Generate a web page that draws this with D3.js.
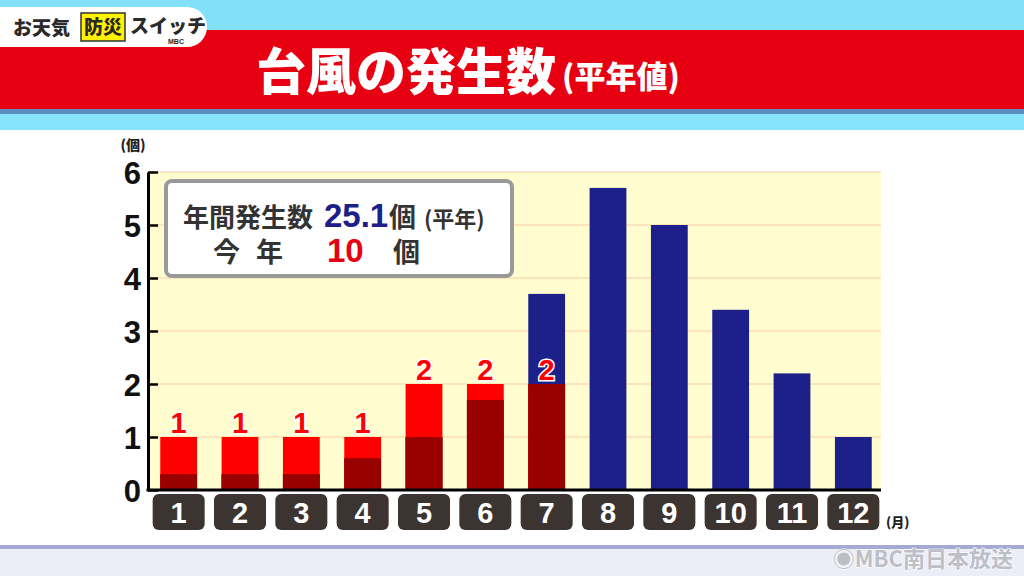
<!DOCTYPE html>
<html>
<head>
<meta charset="utf-8">
<script src="https://cdn.jsdelivr.net/npm/d3@7"></script>
<style>
    body { margin: 0; background: #fff; }
    svg { display: block; }
    text { font-family: "Noto Sans CJK JP", "Noto Sans", sans-serif; }
    .num { font-family: "Liberation Sans", Arial, sans-serif; font-weight: bold; }
</style>
</head>
<body>
<svg id="chart" width="1024" height="576"></svg>
<script>
// monthly typhoon counts: normal (平年値) and this year (今年)
const months = ["1", "2", "3", "4", "5", "6", "7", "8", "9", "10", "11", "12"];
const normalValues = [0.3, 0.3, 0.3, 0.6, 1.0, 1.7, 3.7, 5.7, 5.0, 3.4, 2.2, 1.0];
const thisYearValues = [1, 1, 1, 1, 2, 2, 2, 0, 0, 0, 0, 0];
const yTickValues = [0, 1, 2, 3, 4, 5, 6];

const colors = {
    normal: "#1d2088",
    thisYear: "#ff0000",
    overlap: "#990000",
    plotBg: "#fffcd0",
    grid: "#f8cfa6"
};

let svg = d3.select("#chart");

// ---- header / frame ----
svg.append("rect").attr("x", 0).attr("y", 0).attr("width", 1024).attr("height", 130).attr("fill", "#82e0f8");
svg.append("rect").attr("x", 0).attr("y", 30).attr("width", 1024).attr("height", 79).attr("fill", "#e60012");
svg.append("rect").attr("x", 0).attr("y", 109).attr("width", 1024).attr("height", 5).attr("fill", "#5a8fbe");
svg.append("rect").attr("x", 0).attr("y", 114).attr("width", 1024).attr("height", 16).attr("fill", "#87e4fc");
svg.append("rect").attr("x", 0).attr("y", 545).attr("width", 1024).attr("height", 4).attr("fill", "#a4aad2");
svg.append("rect").attr("x", 0).attr("y", 549).attr("width", 1024).attr("height", 27).attr("fill", "#eceef7");

// logo tab
svg.append("path")
    .attr("d", "M0,7 H187 A20,20 0 0 1 207,27 A20,20 0 0 1 187,47 H0 Z")
    .attr("fill", "#fff");
svg.append("text").attr("x", 13).attr("y", 35)
    .style("font-size", "19px").style("font-weight", 900).attr("fill", "#2a2a2a")
    .text("お天気");
svg.append("rect").attr("x", 81).attr("y", 13).attr("width", 44).attr("height", 28)
    .attr("fill", "#fff200").attr("stroke", "#333").attr("stroke-width", 1.5);
svg.append("text").attr("x", 84).attr("y", 34)
    .style("font-size", "19px").style("font-weight", 900).attr("fill", "#2a2a2a")
    .text("防災");
svg.append("text").attr("x", 130).attr("y", 33)
    .style("font-size", "19px").style("font-weight", 900).attr("fill", "#2a2a2a")
    .text("スイッチ");
svg.append("text").attr("class", "num").attr("x", 168).attr("y", 44)
    .style("font-size", "7px").attr("fill", "#2a2a2a")
    .text("MBC");

// title
svg.append("text").attr("x", 256).attr("y", 90)
    .attr("fill", "#fff").style("font-weight", 900)
    .style("font-size", "50px").text("台風の発生数");
svg.append("text").attr("x", 562).attr("y", 88)
    .attr("fill", "#fff").style("font-weight", 900)
    .style("font-size", "31px").text("(平年値)");

// footer logo
svg.append("text").attr("x", 1013).attr("y", 567).attr("text-anchor", "end")
    .style("font-size", "22px").style("font-weight", 700)
    .attr("fill", "#bcbec8").attr("stroke", "#fff").attr("stroke-width", 1.2)
    .style("paint-order", "stroke")
    .text("◉MBC南日本放送");

// ---- chart ----
let x = d3.scaleBand()
    .domain(months)
    .range([148, 884])
    .paddingInner(0.4)
    .paddingOuter(0.2);

let y = d3.scaleLinear()
    .domain([0, 6])
    .range([490, 172]);

svg.append("rect")
    .attr("x", 148).attr("y", y(6))
    .attr("width", 881 - 148).attr("height", y(0) - y(6))
    .attr("fill", colors.plotBg);

svg.append("g")
    .selectAll("line")
    .data(yTickValues.slice(1))
    .enter().append("line")
    .attr("x1", 148).attr("x2", 881)
    .attr("y1", d => y(d)).attr("y2", d => y(d))
    .attr("stroke", colors.grid).attr("stroke-width", 1);

let data = months.map((m, i) => ({month: m, normal: normalValues[i], thisYear: thisYearValues[i]}));

let bars = svg.append("g");
bars.selectAll(".normal")
    .data(data)
    .enter().append("rect")
    .attr("class", "normal")
    .attr("x", d => x(d.month))
    .attr("width", x.bandwidth())
    .attr("y", d => y(d.normal))
    .attr("height", d => y(0) - y(d.normal))
    .attr("fill", colors.normal);

bars.selectAll(".this-year")
    .data(data.filter(d => d.thisYear > 0))
    .enter().append("rect")
    .attr("class", "this-year")
    .attr("x", d => x(d.month))
    .attr("width", x.bandwidth())
    .attr("y", d => y(d.thisYear))
    .attr("height", d => y(0) - y(d.thisYear))
    .attr("fill", colors.thisYear);

bars.selectAll(".overlap")
    .data(data.filter(d => d.thisYear > 0))
    .enter().append("rect")
    .attr("class", "overlap")
    .attr("x", d => x(d.month))
    .attr("width", x.bandwidth())
    .attr("y", d => y(Math.min(d.normal, d.thisYear)))
    .attr("height", d => y(0) - y(Math.min(d.normal, d.thisYear)))
    .attr("fill", colors.overlap);

svg.append("g")
    .selectAll("text")
    .data(data.filter(d => d.thisYear > 0))
    .enter().append("text")
    .attr("class", "num")
    .attr("x", d => x(d.month) + x.bandwidth() / 2)
    .attr("y", d => y(d.thisYear) - 4)
    .attr("text-anchor", "middle")
    .style("font-size", "29px")
    .attr("fill", colors.thisYear)
    .attr("stroke", "#fff").attr("stroke-width", 3)
    .style("paint-order", "stroke")
    .text(d => d.thisYear);

// y axis
let yAxis = svg.append("g")
    .attr("transform", "translate(148,0)")
    .call(d3.axisLeft(y).tickValues(yTickValues).tickFormat(d3.format("d"))
        .tickSize(-10).tickSizeOuter(0).tickPadding(7));
yAxis.select(".domain").attr("stroke", "#000").attr("stroke-width", 3);
yAxis.selectAll(".tick line").attr("stroke", "#000").attr("stroke-width", 2.5);
yAxis.selectAll(".tick text")
    .attr("class", "num")
    .style("font-size", "31px")
    .attr("fill", "#111")
    .attr("dy", "0.36em");

svg.append("text").attr("x", 133).attr("y", 150).attr("text-anchor", "middle")
    .style("font-size", "14px").style("font-weight", 900).attr("fill", "#222")
    .text("(個)");

// x axis with label boxes
let xAxis = svg.append("g")
    .attr("transform", "translate(0,490)")
    .call(d3.axisBottom(x).tickSize(0).tickPadding(0));
xAxis.select(".domain").remove();
xAxis.selectAll(".tick").insert("rect", "text")
    .attr("x", -26).attr("y", 4)
    .attr("width", 52).attr("height", 36)
    .attr("rx", 6)
    .attr("fill", "#3b3431");
xAxis.selectAll(".tick text")
    .attr("class", "num")
    .attr("y", 33)
    .attr("dy", 0)
    .style("font-size", "29px")
    .attr("fill", "#fff");

svg.append("line")
    .attr("x1", 146.5).attr("x2", 881)
    .attr("y1", 490).attr("y2", 490)
    .attr("stroke", "#000").attr("stroke-width", 3);

svg.append("text").attr("x", 886).attr("y", 527)
    .style("font-size", "13px").style("font-weight", 900).attr("fill", "#222")
    .text("(月)");

// legend box
svg.append("rect")
    .attr("x", 166).attr("y", 181).attr("width", 346).attr("height", 95)
    .attr("rx", 6)
    .attr("fill", "#fff").attr("stroke", "#999").attr("stroke-width", 4);

let line1 = svg.append("text").attr("x", 183).attr("y", 227).attr("fill", "#333");
line1.append("tspan").style("font-size", "26px").style("font-weight", 700).text("年間発生数");
line1.append("tspan").attr("class", "num").attr("x", 324).style("font-size", "33px").attr("fill", "#1d2088").text("25.1");
line1.append("tspan").attr("x", 389).style("font-size", "27px").style("font-weight", 700).text("個");
line1.append("tspan").attr("x", 424).style("font-size", "22px").style("font-weight", 700).text("(平年)");

let line2 = svg.append("text").attr("y", 262).attr("fill", "#333");
line2.append("tspan").attr("x", 213).style("font-size", "27px").style("font-weight", 700).text("今");
line2.append("tspan").attr("x", 256).style("font-size", "27px").style("font-weight", 700).text("年");
line2.append("tspan").attr("class", "num").attr("x", 327).style("font-size", "33px").attr("fill", "#e60012").text("10");
line2.append("tspan").attr("x", 393).style("font-size", "27px").style("font-weight", 700).text("個");
</script>
</body>
</html>
